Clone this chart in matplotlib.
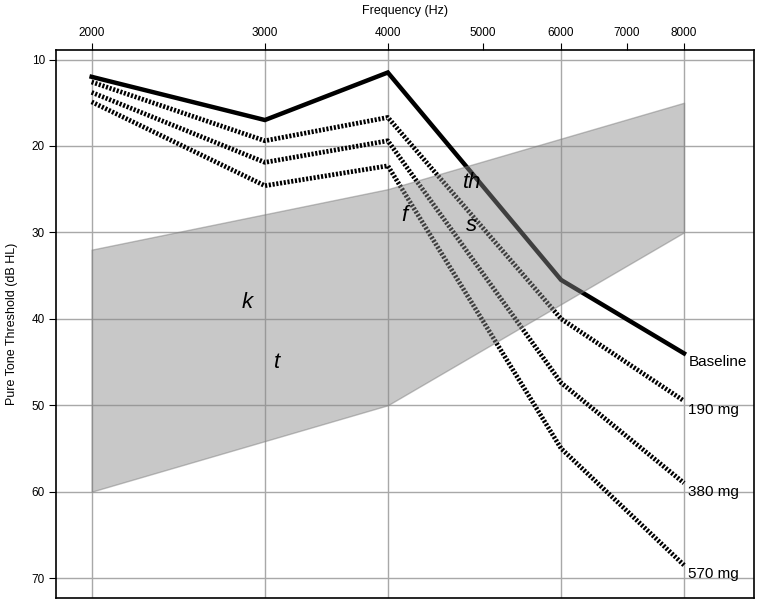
import matplotlib.pyplot as plt
from matplotlib.ticker import FixedLocator, NullLocator

plt.rcParams['font.family'] = ['Liberation Sans', 'DejaVu Sans']

freqs = [2000, 3000, 4000, 6000, 8000]
baseline = [12.0, 17.0, 11.5, 35.5, 44.0]
mg190 = [12.6, 19.4, 16.7, 40.0, 49.5]
mg380 = [13.8, 21.9, 19.4, 47.4, 59.0]
mg570 = [14.9, 24.6, 22.3, 55.0, 68.5]
series_labels = ["Baseline", "190 mg", "380 mg", "570 mg"]

# speech banana
band_freqs = [2000, 4000, 8000]
band_upper = [32, 25, 15]
band_lower = [60, 50, 30]

phonemes = ["th", "f", "s", "k", "t"]
phoneme_freqs = [4870, 4160, 4870, 2880, 3090]
phoneme_levels = [24.2, 28.0, 29.2, 38.1, 45.1]

xticks = [2000, 3000, 4000, 5000, 6000, 7000, 8000]
xgrid = [2000, 3000, 4000, 6000, 8000]
yticks = [10, 20, 30, 40, 50, 60, 70]

fig = plt.figure(figsize=(7.64, 6.1), dpi=100)
ax = fig.add_axes([0.0733, 0.0197, 0.9137, 0.8983])

ax.set_xscale('log')
ax.set_xlim(1840, 9425)
ax.set_ylim(72.3, 8.9)

for f in xgrid:
    ax.axvline(f, color='#a8a8a8', lw=1, zorder=0)
for y in yticks:
    ax.axhline(y, color='#a8a8a8', lw=1, zorder=0)

ax.plot(freqs, baseline, color='black', lw=3.2, solid_joinstyle='miter', zorder=2)
dots = (0, (0.45, 0.35))
for vals in [mg190, mg380, mg570]:
    ax.plot(freqs, vals, color='black', lw=3.4, linestyle=dots, zorder=2)

ax.fill_between(band_freqs, band_upper, band_lower, facecolor='#898989',
                edgecolor='#7a7a7a', lw=1, alpha=0.467, zorder=3)

for p, f, v in zip(phonemes, phoneme_freqs, phoneme_levels):
    ax.text(f, v, p, fontsize=16, style='italic', ha='center', va='center', zorder=4)

ends = [baseline[-1], mg190[-1], mg380[-1], mg570[-1]]
for lab, e in zip(series_labels, ends):
    ax.text(8080, e + 1.05, lab, fontsize=11, ha='left', va='center', zorder=4)

ax.xaxis.tick_top()
ax.xaxis.set_label_position('top')
ax.xaxis.set_major_locator(FixedLocator(xticks))
ax.xaxis.set_minor_locator(NullLocator())
ax.set_xticklabels([str(t) for t in xticks])
ax.set_yticks(yticks)
ax.tick_params(axis='both', labelsize=8.5, length=5, width=0.8, direction='out', pad=3)
ax.set_xlabel("Frequency (Hz)", fontsize=9, labelpad=9)
ax.set_ylabel("Pure Tone Threshold (dB HL)", fontsize=9, labelpad=10)
for s in ax.spines.values():
    s.set_linewidth(1.2)

fig.savefig('out.png', dpi=100)
